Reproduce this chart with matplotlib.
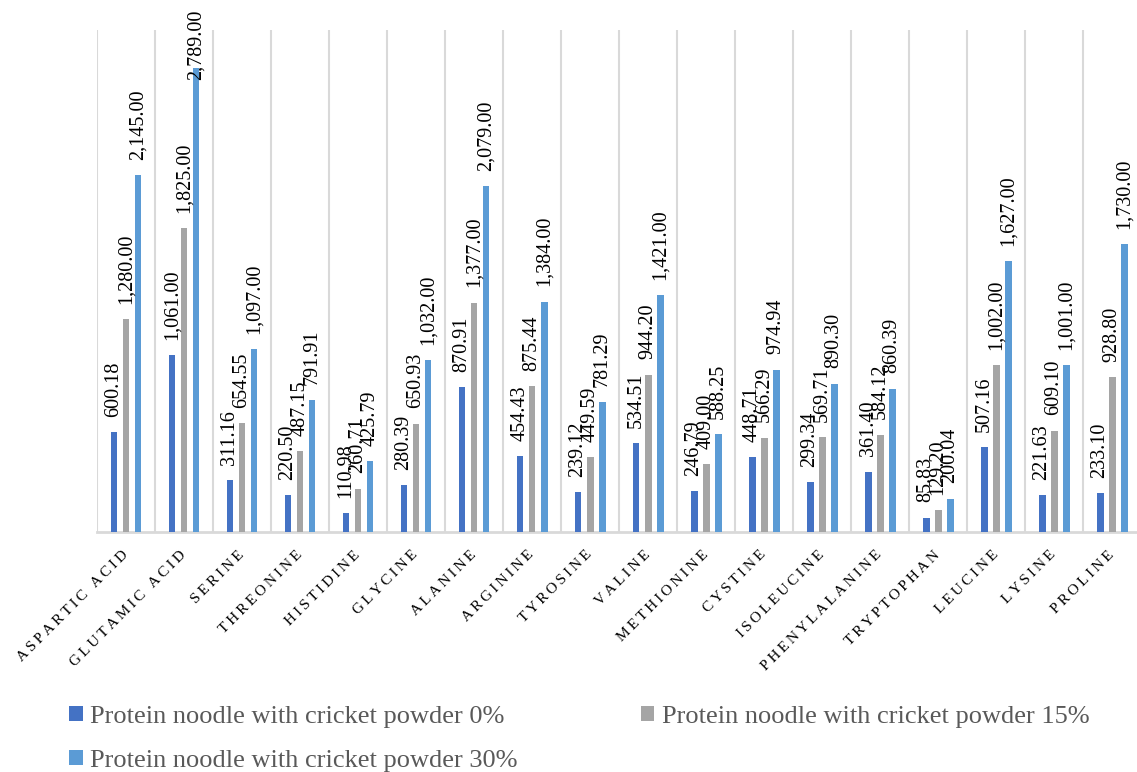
import matplotlib
matplotlib.use("Agg")
import matplotlib.pyplot as plt
import numpy as np

categories = ["ASPARTIC ACID", "GLUTAMIC ACID", "SERINE", "THREONINE", "HISTIDINE",
              "GLYCINE", "ALANINE", "ARGININE", "TYROSINE", "VALINE", "METHIONINE",
              "CYSTINE", "ISOLEUCINE", "PHENYLALANINE", "TRYPTOPHAN", "LEUCINE",
              "LYSINE", "PROLINE"]
s0 = [600.18, 1061.00, 311.16, 220.50, 110.98, 280.39, 870.91, 454.43, 239.12, 534.51,
      246.79, 448.71, 299.34, 361.40, 85.83, 507.16, 221.63, 233.10]
s15 = [1280.00, 1825.00, 654.55, 487.15, 260.71, 650.93, 1377.00, 875.44, 449.59, 944.20,
       409.00, 566.29, 569.71, 584.12, 129.20, 1002.00, 609.10, 928.80]
s30 = [2145.00, 2789.00, 1097.00, 791.91, 425.79, 1032.00, 2079.00, 1384.00, 781.29, 1421.00,
       588.25, 974.94, 890.30, 860.39, 200.04, 1627.00, 1001.00, 1730.00]
series_names = ["Protein noodle with cricket powder 0%",
                "Protein noodle with cricket powder 15%",
                "Protein noodle with cricket powder 30%"]
colors = ["#4472C4", "#A5A5A5", "#5B9BD5"]

plt.rcParams['font.family'] = ['Liberation Serif', 'DejaVu Serif']

fig = plt.figure(figsize=(11.37, 7.72), dpi=100)
ax = fig.add_axes([0.0853, 0.311, 0.9147, 0.650])

x = np.arange(len(categories))
w = 0.12
offs = [-0.207, 0.0, 0.207]
anns = []
for data, off, c, name in zip([s0, s15, s30], offs, colors, series_names):
    ax.bar(x + off, data, width=w, color=c, label=name, zorder=3)
    for xi, v in zip(x + off, data):
        a = ax.annotate(f"{v:,.2f}", (xi, v), xytext=(0, 11), textcoords='offset points',
                        rotation=90, ha='center', va='bottom', fontsize=14.5,
                        color='#000000', annotation_clip=False, zorder=4)
        anns.append(a)

ax.set_xlim(-0.5, 17.43)
ax.set_ylim(0, 3015)
for b in np.arange(-0.5, 18.0, 1.0):
    ax.axvline(b, color='#d9d9d9', lw=1.5, zorder=1)
for s in ['top', 'right', 'left']:
    ax.spines[s].set_visible(False)
ax.spines['bottom'].set_color('#d9d9d9')
ax.spines['bottom'].set_linewidth(2)
ax.set_yticks([])
ax.set_xticks(x)
spaced = ["\u2009".join(list(c)) for c in categories]
ax.set_xticklabels(spaced, rotation=45, ha='right', va='center', rotation_mode='anchor',
                   fontsize=11, color='#000000')
ax.tick_params(axis='x', length=0, pad=15)

handles, labels = ax.get_legend_handles_labels()
order = [0, 2, 1]
leg = fig.legend([handles[i] for i in order], [labels[i] for i in order],
                 loc='lower left', bbox_to_anchor=(0.0575, -0.005), ncol=2,
                 frameon=False, fontsize=19, handlelength=0.5, handleheight=0.5,
                 handletextpad=0.27, columnspacing=4.7, labelspacing=0.82,
                 borderpad=0.15, borderaxespad=0, labelcolor='#595959')

# keep data labels inside the figure (like the reference, which pushes the top one down)
fig.canvas.draw()
r = fig.canvas.get_renderer()
H = fig.bbox.height
for a in anns:
    bb = a.get_window_extent(r)
    limit = H - 10
    if bb.y1 > limit:
        shift_pts = (bb.y1 - limit) * 72.0 / fig.dpi
        a.xyann = (0, 11 - shift_pts)

fig.savefig("out.png", dpi=100)
